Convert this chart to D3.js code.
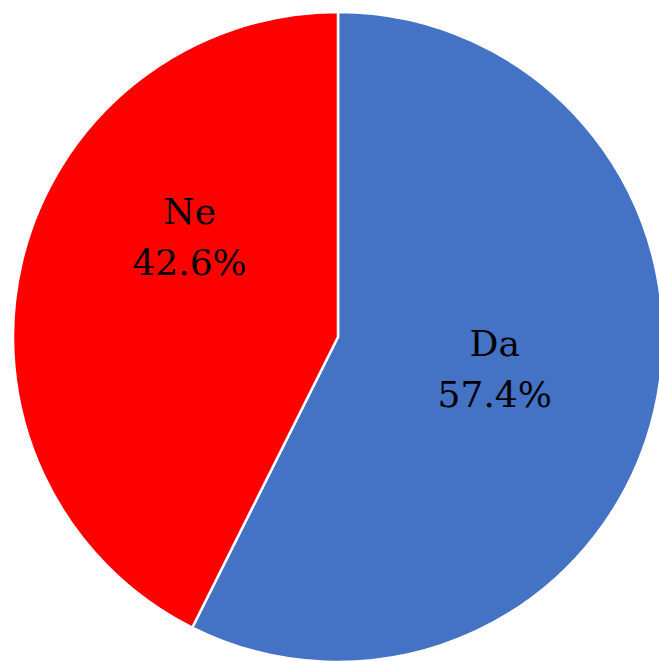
<!DOCTYPE html>
<html>
<head>
<meta charset="utf-8">
<script src="https://cdn.jsdelivr.net/npm/d3@7"></script>
<style>
  body { margin: 0; background: #fff; }
  text { font-family: "DejaVu Serif", "Liberation Serif", serif; }
</style>
</head>
<body>
<div class="pie"></div>
<script>
var categories = ["Da", "Ne"];
var shares = [57.4, 42.6];
var colors = ["#4472c4", "#ff0000"];

var svgWidth = 659;
var svgHeight = 661;
var cx = 338, cy = 337, radius = 325;

// label placement tweak, excel puts them a bit off the centroid
var labelShift = [-1.8, 20.7];
var labelDist = [160, 179];

var svg = d3.select(".pie")
  .append("svg")
  .attr("width", svgWidth)
  .attr("height", svgHeight);

var chartGroup = svg.append("g")
  .attr("transform", `translate(${cx}, ${cy})`);

var pie = d3.pie().sort(null).value(d => d);
var arcs = pie(shares);

var arc = d3.arc().innerRadius(0).outerRadius(radius);

chartGroup.selectAll("path")
  .data(arcs)
  .enter()
  .append("path")
  .attr("d", arc)
  .attr("fill", (d, i) => colors[i])
  .attr("stroke", "#fff")
  .attr("stroke-width", 2.5);

var labels = chartGroup.selectAll(".lbl")
  .data(arcs)
  .enter()
  .append("text")
  .attr("class", "lbl")
  .attr("text-anchor", "middle")
  .attr("font-size", 36)
  .attr("fill", "#000")
  .attr("transform", function (d, i) {
    var a = (d.startAngle + d.endAngle) / 2 + labelShift[i] * Math.PI / 180;
    var r = labelDist[i];
    return `translate(${r * Math.sin(a)}, ${-r * Math.cos(a)})`;
  });

labels.append("tspan")
  .attr("x", 0)
  .attr("y", -13)
  .text((d, i) => categories[i]);

labels.append("tspan")
  .attr("x", 0)
  .attr("y", 38)
  .text((d, i) => d3.format(".1f")(shares[i]) + "%");
</script>
</body>
</html>
